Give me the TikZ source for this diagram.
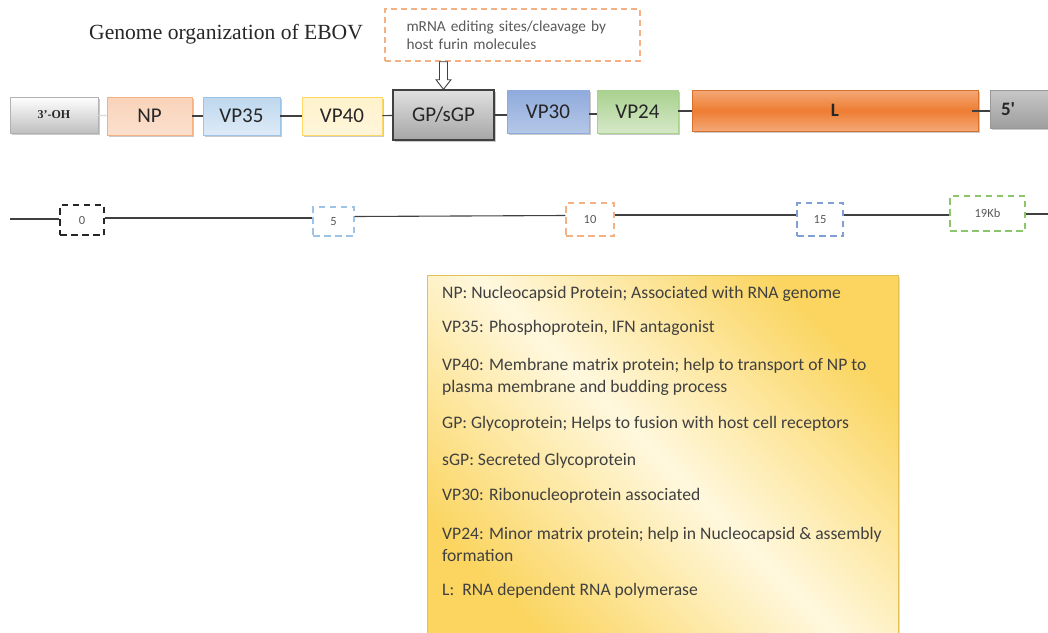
\documentclass[tikz,border=0pt]{standalone}
\usepackage{fontspec}
\setmainfont{Liberation Serif}
\newfontfamily\carl{Carlito}
\usetikzlibrary{shadows,calc}

% palette
\definecolor{txt}{HTML}{262626}
\definecolor{softtxt}{HTML}{595959}
\definecolor{linegray}{HTML}{404040}
\definecolor{npfill}{HTML}{F8CBAD}
\definecolor{npline}{HTML}{F4B183}
\definecolor{bluelt}{HTML}{BDD7EE}
\definecolor{bluelt2}{HTML}{DEEBF7}
\definecolor{blueline}{HTML}{9DC3E6}
\definecolor{yellowlt}{HTML}{FFF2CC}
\definecolor{yellowline}{HTML}{FFD966}
\definecolor{bluemid}{HTML}{8FAADC}
\definecolor{bluemid2}{HTML}{B4C7E7}
\definecolor{greenlt}{HTML}{A9D18E}
\definecolor{greenlt2}{HTML}{D5E8C8}
\definecolor{orangeL}{HTML}{ED7D31}
\definecolor{orangeL2}{HTML}{F4A878}
\definecolor{orangedash}{HTML}{F4B183}
\definecolor{bluedash}{HTML}{7F9FD6}
\definecolor{greendash}{HTML}{8CC56A}
\definecolor{gold}{HTML}{FBD560}
\definecolor{cream}{HTML}{FFF8DE}

\tikzset{
  gene/.style={draw, rectangle, inner sep=0pt, line width=0.8pt,
    font=\carl\fontsize{21}{24}\selectfont, text=txt,
    drop shadow={shadow xshift=1.5pt, shadow yshift=-2pt, opacity=0.35, fill=black!60}},
  link/.style={draw=linegray, line width=1.1pt},
  kbbox/.style={draw, dashed, dash pattern=on 6.5pt off 4.5pt, line width=1.4pt,
    inner sep=0pt, font=\carl\fontsize{12.5}{14}\selectfont, text=softtxt},
  legendtext/.style={anchor=west, inner sep=0pt, align=left,
    font=\carl\fontsize{17.6}{22}\selectfont, text=linegray},
}

\begin{document}
\begin{tikzpicture}[x=1pt,y=-1pt]
\useasboundingbox (0,0) rectangle (1048,632);

% title
\node[anchor=west, inner sep=0pt, font=\fontsize{21.6}{24}\selectfont, text=txt]
  (title) at (89,34) {Genome organization of EBOV};

% gene segments
\node[gene, draw=black!30, top color=white, bottom color=black!25,
  minimum width=88, minimum height=36,
  font=\bfseries\fontsize{12}{14}\selectfont] (oh) at (54,115) {3'-OH};
\node[gene, draw=npline, top color=npfill!85, bottom color=npfill!60,
  minimum width=85, minimum height=38] (np) at (149.5,116) {NP};
\node[gene, draw=blueline, top color=bluelt, bottom color=bluelt2,
  minimum width=77, minimum height=38] (vp35) at (241.5,116) {VP35};
\node[gene, draw=yellowline, top color=yellowlt, bottom color=yellowlt!70,
  minimum width=80, minimum height=38] (vp40) at (342,116) {VP40};
\node[gene, draw=linegray, line width=1.4pt, top color=black!12, bottom color=black!35,
  minimum width=101, minimum height=50] (gp) at (443.5,115) {GP/sGP};
\node[gene, draw=bluemid, top color=bluemid, bottom color=bluemid2,
  minimum width=82, minimum height=43] (vp30) at (548,111.5) {VP30};
\node[gene, draw=greenlt, top color=greenlt, bottom color=greenlt2,
  minimum width=81, minimum height=43] (vp24) at (637.5,111.5) {VP24};
\node[gene, draw=orangeL!90!black, top color=orangeL2, bottom color=orangeL2,
  middle color=orangeL, minimum width=286, minimum height=41,
  font=\carl\bfseries\fontsize{19}{22}\selectfont] (L) at (835,110.5) {L};
\node[gene, draw=black!40, top color=black!22, bottom color=black!38,
  minimum width=70, minimum height=38, text width=48, align=left,
  font=\carl\bfseries\fontsize{19}{22}\selectfont] (five) at (1025,109) {5'};

% links between segments
\draw[draw=black!15, line width=1.4pt] (oh) -- (np);
\draw[link] (np) -- (vp35);
\draw[link] (vp35) -- (vp40);
\draw[link] (vp40) -- (gp);
\draw[link] (gp.east |- 0,115) -- (vp30.west |- 0,115);
\draw[link] (vp30.east |- 0,114) -- (vp24.west |- 0,114);
\draw[link] (vp24.east |- 0,111) -- (L.west |- 0,111);
\draw[link] ($(L.east)+(-6,0.5)$) -- (five.west |- 0,111);

% editing-site note with its block arrow
\node[draw=orangedash, dashed, dash pattern=on 6pt off 4pt, line width=1.4pt,
  minimum width=255, minimum height=52, inner sep=0pt, text width=212, align=left,
  font=\carl\fontsize{15.3}{18}\selectfont, text=softtxt]
  (note) at (512.5,35) {mRNA editing sites/cleavage by\\host furin molecules};
\coordinate (nb) at (gp.north |- note.south);
\draw[fill=white, draw=linegray, line width=0.9pt]
  ($(nb)+(-4,0)$) -- ($(nb)+(4,0)$) -- ($(nb)+(4,18)$) -- ($(nb)+(7.5,18)$)
  -- (gp.north) -- ($(nb)+(-7.5,18)$) -- ($(nb)+(-4,18)$) -- cycle;

% genome length scale
\coordinate (rs) at (10,219);
\coordinate (re) at (1048,214);
\node[kbbox, draw=txt, minimum width=44, minimum height=30] (k0) at (82,220) {0};
\node[kbbox, draw=blueline, minimum width=41, minimum height=29] (k5) at (333.5,221.5) {5};
\node[kbbox, draw=orangedash, minimum width=48, minimum height=33] (k10) at (590,219.5) {10};
\node[kbbox, draw=bluedash, minimum width=46, minimum height=33] (k15) at (820,219.5) {15};
\node[kbbox, draw=greendash, minimum width=75, minimum height=35] (k19) at (987.5,213.5) {19Kb};
\draw[link] (rs) -- (k0.west |- rs);
\draw[link] (k0.east |- 0,218) -- (k5.west |- 0,218);
\draw[link] (k5.east |- 0,216.5) -- (k10.west |- 0,215.5);
\draw[link] (k10.east |- 0,215) -- (k15.west |- 0,215);
\draw[link] (k15.east |- 0,215) -- (k19.west |- 0,215);
\draw[link] (k19.east |- re) -- (re);

% legend
\node[draw=gold!90!black, line width=0.6pt, anchor=north west, inner sep=0pt,
  minimum width=471, minimum height=370,
  top color=gold, bottom color=gold, middle color=cream, shading angle=-45,
  drop shadow={shadow xshift=1.5pt, shadow yshift=-1.5pt, opacity=0.25, fill=black!50}]
  (legend) at (427,275) {};
\node[legendtext] (dnp) at (442,294) {NP: Nucleocapsid Protein; Associated with RNA genome};
\node[legendtext] (dvp35) at (442,328) {VP35: Phosphoprotein, IFN antagonist};
\node[legendtext] (dvp40) at (442,377) {VP40: Membrane matrix protein; help to transport of NP to\\plasma membrane and budding process};
\node[legendtext] (dgp) at (442,424) {GP: Glycoprotein; Helps to fusion with host cell receptors};
\node[legendtext] (dsgp) at (442,461) {sGP: Secreted Glycoprotein};
\node[legendtext] (dvp30) at (442,496) {VP30: Ribonucleoprotein associated};
\node[legendtext] (dvp24) at (442,544) {VP24: Minor matrix protein; help in Nucleocapsid \& assembly\\formation};
\node[legendtext] (dl) at (442,591) {L:\ \ RNA dependent RNA polymerase};
\end{tikzpicture}
\end{document}
